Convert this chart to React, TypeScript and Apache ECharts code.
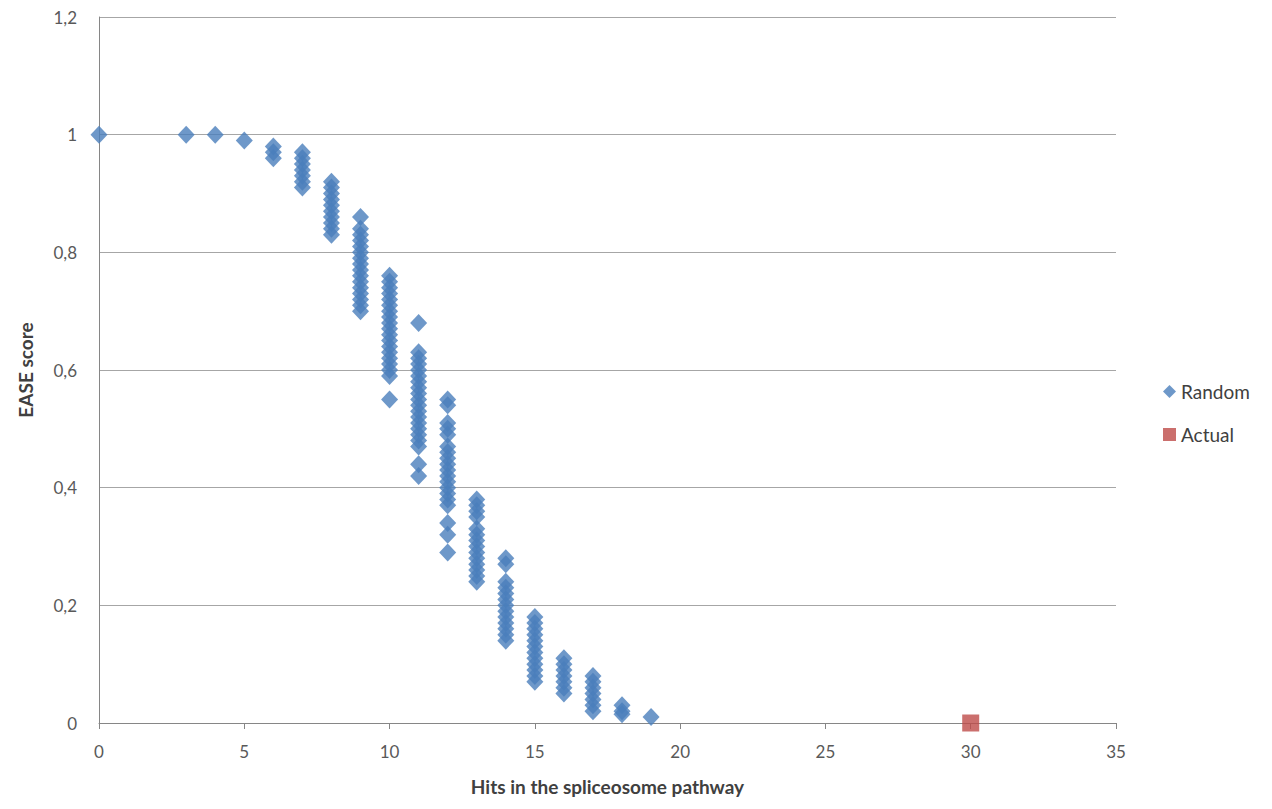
import React, { useEffect, useRef } from "react";
import * as echarts from "echarts";

// Random simulations: x = number of hits, values = EASE scores observed at that x
const hits0 = [1];
const hits3 = [1];
const hits4 = [1];
const hits5 = [0.99];
const hits6 = [0.98, 0.97, 0.96];
const hits7 = [0.97, 0.96, 0.95, 0.94, 0.93, 0.92, 0.91];
const hits8 = [0.92, 0.91, 0.9, 0.89, 0.88, 0.87, 0.86, 0.85, 0.84, 0.83];
const hits9 = [0.86, 0.84, 0.83, 0.82, 0.81, 0.8, 0.79, 0.78, 0.77, 0.76, 0.75, 0.74, 0.73, 0.72, 0.71, 0.7];
const hits10 = [0.76, 0.75, 0.74, 0.73, 0.72, 0.71, 0.7, 0.69, 0.68, 0.67, 0.66, 0.65, 0.64, 0.63, 0.62, 0.61, 0.6, 0.59, 0.55];
const hits11 = [0.68, 0.63, 0.62, 0.61, 0.6, 0.59, 0.58, 0.57, 0.56, 0.55, 0.54, 0.53, 0.52, 0.51, 0.5, 0.49, 0.48, 0.47, 0.44, 0.42];
const hits12 = [0.55, 0.54, 0.51, 0.5, 0.49, 0.47, 0.46, 0.45, 0.44, 0.43, 0.42, 0.41, 0.4, 0.39, 0.38, 0.37, 0.34, 0.32, 0.29];
const hits13 = [0.38, 0.37, 0.36, 0.35, 0.33, 0.32, 0.31, 0.3, 0.29, 0.28, 0.27, 0.26, 0.25, 0.24];
const hits14 = [0.28, 0.27, 0.24, 0.23, 0.22, 0.21, 0.2, 0.19, 0.18, 0.17, 0.16, 0.15, 0.14];
const hits15 = [0.18, 0.17, 0.16, 0.15, 0.14, 0.13, 0.12, 0.11, 0.1, 0.09, 0.08, 0.07];
const hits16 = [0.11, 0.1, 0.09, 0.08, 0.07, 0.06, 0.05];
const hits17 = [0.08, 0.07, 0.06, 0.05, 0.04, 0.03, 0.02];
const hits18 = [0.03, 0.02, 0.015];
const hits19 = [0.01];

const randomColumns: [number, number[]][] = [
  [0, hits0], [3, hits3], [4, hits4], [5, hits5], [6, hits6], [7, hits7],
  [8, hits8], [9, hits9], [10, hits10], [11, hits11], [12, hits12],
  [13, hits13], [14, hits14], [15, hits15], [16, hits16], [17, hits17],
  [18, hits18], [19, hits19],
];

const actualX = [30];
const actualY = [0];

const FONT = "Lato, 'Open Sans', sans-serif";

export default function App() {
  const ref = useRef<HTMLDivElement>(null);
  useEffect(() => {
    if (!ref.current) return;
    const chart = echarts.init(ref.current, undefined, { renderer: "svg" });
    const randomData: number[][] = [];
    randomColumns.forEach(([x, vals]) => vals.forEach((v) => randomData.push([x, v])));
    const actualData = actualX.map((x, i) => [x, actualY[i]]);
    chart.setOption({
      animation: false,
      backgroundColor: "#ffffff",
      textStyle: { fontFamily: FONT },
      grid: { left: 82, right: 148, top: 9, bottom: 70, containLabel: false },
      legend: {
        orient: "vertical",
        left: 1150,
        top: 369,
        itemGap: 24,
        itemWidth: 13,
        itemHeight: 13,
        textStyle: { fontFamily: FONT, fontSize: 19, color: "#404040" },
        data: [
          { name: "Random", icon: "diamond" },
          { name: "Actual", icon: "rect" },
        ],
      },
      xAxis: {
        type: "value",
        min: 0,
        max: 35,
        interval: 5,
        name: "Hits in the spliceosome pathway",
        nameLocation: "middle",
        nameGap: 54,
        nameTextStyle: { fontFamily: FONT, fontSize: 19, fontWeight: "bold", color: "#404040" },
        axisLine: { show: true, lineStyle: { color: "#868686", width: 1 } },
        axisTick: { show: true, inside: false, length: 6, lineStyle: { color: "#868686" } },
        axisLabel: { fontFamily: FONT, fontSize: 17, color: "#595959", margin: 20 },
        splitLine: { show: false },
      },
      yAxis: {
        type: "value",
        min: 0,
        max: 1.2,
        interval: 0.2,
        name: "EASE score",
        nameLocation: "middle",
        nameGap: 64,
        nameRotate: 90,
        nameTextStyle: { fontFamily: FONT, fontSize: 19, fontWeight: "bold", color: "#404040" },
        axisLine: { show: true, lineStyle: { color: "#868686", width: 1 } },
        axisTick: { show: false },
        axisLabel: {
          fontFamily: FONT,
          fontSize: 17,
          color: "#595959",
          margin: 22,
          formatter: (v: number) => String(Math.round(v * 10) / 10).replace(".", ","),
        },
        splitLine: { show: true, lineStyle: { color: "#a6a6a6", width: 1 } },
      },
      series: [
        {
          name: "Random",
          type: "scatter",
          symbol: "diamond",
          symbolSize: [17, 18],
          itemStyle: { color: "#4A7EBB" },
          data: randomData,
          z: 3,
        },
        {
          name: "Actual",
          type: "scatter",
          symbol: "rect",
          symbolSize: 17,
          itemStyle: { color: "#BE4B48" },
          data: actualData,
          z: 4,
        },
      ],
    });
    return () => chart.dispose();
  }, []);
  return <div ref={ref} style={{ width: 1256, height: 793 }} />;
}
